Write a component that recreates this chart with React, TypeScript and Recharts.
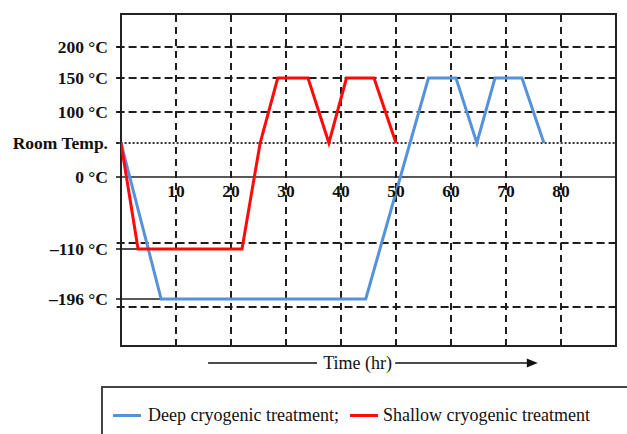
import React from 'react';
import { LineChart, Line, XAxis, YAxis, ReferenceLine, ReferenceArea, ReferenceDot, Legend } from 'recharts';

const ROOM = 25;

// shallow cryogenic treatment (hours, °C)
const shallowHours = [0, 3.1, 22.0, 25.3, 28.5, 34.0, 37.8, 41.0, 46.0, 50.0];
const shallowTemps = [ROOM, -110, -110, ROOM, 150, 150, ROOM, 150, 150, ROOM];

// deep cryogenic treatment (hours, °C)
const deepHours = [0, 7.3, 44.5, 55.9, 60.9, 64.7, 68.0, 72.9, 76.9];
const deepTemps = [ROOM, -196, -196, 150, 150, ROOM, 150, 150, ROOM];

const yTickTemps = [200, 150, 100, ROOM, 0, -110, -196];
const yTickLabels = ['200 °C', '150 °C', '100 °C', 'Room Temp.', '0 °C', '–110 °C', '–196 °C'];
const gridTemps = [200, 150, 100, -100, -200];
const xTickHours = [10, 20, 30, 40, 50, 60, 70, 80];

// the temperature axis of the schematic is not linear: map °C onto drawing levels
const AXIS_STOPS: [number, number][] = [
  [-260, -169], [-200, -130], [-196, -122], [-110, -72], [-100, -66],
  [0, 0], [ROOM, 34], [100, 65], [150, 99], [200, 130], [250, 163],
];
const level = (t: number) => {
  for (let i = 1; i < AXIS_STOPS.length; i++) {
    const [t0, l0] = AXIS_STOPS[i - 1];
    const [t1, l1] = AXIS_STOPS[i];
    if (t <= t1) return l0 + ((t - t0) / (t1 - t0)) * (l1 - l0);
  }
  return AXIS_STOPS[AXIS_STOPS.length - 1][1];
};

const shallowData = shallowHours.map((h, i) => ({ h, y: level(shallowTemps[i]) }));
const deepData = deepHours.map((h, i) => ({ h, y: level(deepTemps[i]) }));

const FONT = '"Liberation Serif", "Times New Roman", serif';
const BLUE = '#5592dc';
const RED = '#ff0a0a';
const GRID = '#1e1e1e';

const TimeArrow = (props: any) => {
  const vb = props.viewBox || {};
  const { x = 0, y = 0, width = 0 } = vb;
  const ay = y + 17;
  const tip = x + width * 0.842;
  return (
    <g>
      <line x1={x + width * 0.176} x2={x + width * 0.396} y1={ay} y2={ay} stroke="#111" strokeWidth={1.6} />
      <text x={x + width * 0.478} y={ay} textAnchor="middle" dominantBaseline="central" fontFamily={FONT} fontSize={18} fill="#111">Time (hr)</text>
      <line x1={x + width * 0.554} x2={tip - 8} y1={ay} y2={ay} stroke="#111" strokeWidth={1.6} />
      <polygon points={`${tip},${ay} ${tip - 11},${ay - 4.5} ${tip - 11},${ay + 4.5}`} fill="#111" />
    </g>
  );
};

const LegendBox = () => (
  <div style={{ position: 'relative', width: 540, height: 80, border: '2px solid #444', background: '#fff', fontFamily: FONT, fontSize: 18, color: '#111' }}>
    <div style={{ position: 'absolute', left: 10, top: 26, width: 28, height: 3, background: BLUE }} />
    <span style={{ position: 'absolute', left: 45, top: 17, lineHeight: '20px', whiteSpace: 'nowrap' }}>Deep cryogenic treatment;</span>
    <div style={{ position: 'absolute', left: 247, top: 26, width: 28, height: 3, background: RED }} />
    <span style={{ position: 'absolute', left: 280, top: 17, lineHeight: '20px', whiteSpace: 'nowrap' }}>Shallow cryogenic treatment</span>
  </div>
);

export default function App() {
  return (
    <div style={{ position: 'absolute', left: 0, top: 0, width: 627, height: 434, overflow: 'hidden', background: '#fff' }}>
      <LineChart width={627} height={434} margin={{ top: 14, right: 11, left: 0, bottom: 0 }}>
        <XAxis
          dataKey="h"
          type="number"
          domain={[0, 90]}
          allowDataOverflow
          height={88}
          tick={false}
          tickLine={false}
          axisLine={false}
          label={{ content: TimeArrow }}
        />
        <YAxis
          type="number"
          domain={[-169, 163]}
          allowDataOverflow
          width={121}
          ticks={yTickTemps.map(level)}
          interval={0}
          tickFormatter={(v: number) => {
            const i = yTickTemps.findIndex((t) => Math.abs(level(t) - v) < 0.01);
            return i >= 0 ? yTickLabels[i] : '';
          }}
          tick={{ fontSize: 17.5, fontWeight: 'bold', fill: '#111', fontFamily: FONT }}
          tickSize={5}
          tickMargin={8}
          tickLine={{ stroke: '#111', strokeWidth: 1.5 }}
          axisLine={false}
        />

        {xTickHours.map((h) => (
          <ReferenceLine key={'v' + h} x={h} stroke={GRID} strokeWidth={2} strokeDasharray="7 5" />
        ))}
        {gridTemps.map((t) => (
          <ReferenceLine
            key={'g' + t}
            segment={[{ x: -0.8, y: level(t) }, { x: 90, y: level(t) }]}
            ifOverflow="visible"
            stroke={GRID}
            strokeWidth={2}
            strokeDasharray="8 4"
          />
        ))}
        <ReferenceLine
          segment={[{ x: -0.8, y: level(ROOM) }, { x: 90, y: level(ROOM) }]}
          ifOverflow="visible"
          stroke="#333"
          strokeWidth={2}
          strokeDasharray="2 2"
        />
        <ReferenceLine y={0} stroke="#222" strokeWidth={1.6} />
        <ReferenceLine segment={[{ x: 0, y: level(-110) }, { x: shallowHours[1], y: level(-110) }]} stroke="#222" strokeWidth={1.6} />
        <ReferenceLine segment={[{ x: 0, y: level(-196) }, { x: deepHours[1], y: level(-196) }]} stroke="#222" strokeWidth={1.6} />
        <ReferenceArea x1={0} x2={90} y1={-169} y2={163} fill="none" stroke="#222" strokeWidth={2} />

        {xTickHours.map((h) => (
          <ReferenceDot
            key={'t' + h}
            x={h}
            y={0}
            r={0}
            fill="none"
            stroke="none"
            label={{ value: String(h), position: 'bottom', offset: 8, fontSize: 17.5, fontWeight: 'bold', fill: '#111', fontFamily: FONT }}
          />
        ))}

        <Line data={deepData} dataKey="y" type="linear" stroke={BLUE} strokeWidth={3} dot={false} isAnimationActive={false} />
        <Line data={shallowData} dataKey="y" type="linear" stroke={RED} strokeWidth={3} dot={false} isAnimationActive={false} />

        <Legend
          layout="horizontal"
          verticalAlign="middle"
          align="center"
          content={LegendBox}
          wrapperStyle={{ position: 'absolute', left: 101, top: 386, width: 540, height: 80 }}
        />
      </LineChart>
    </div>
  );
}
